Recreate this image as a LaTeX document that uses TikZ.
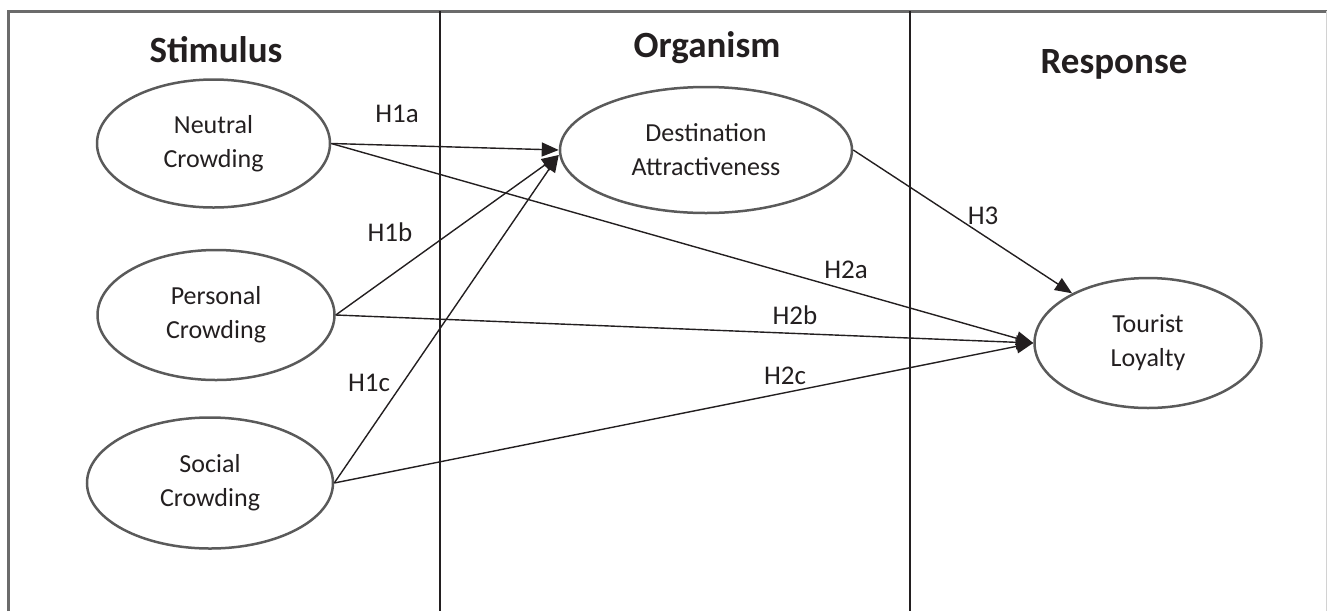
\documentclass[tikz,border=0pt]{standalone}
\usepackage{fontspec}
\setmainfont{Carlito}
\usetikzlibrary{shapes.geometric,arrows.meta}
\definecolor{ink}{HTML}{231F20}
\definecolor{rim}{HTML}{5A5A5A}
\definecolor{frame}{HTML}{6B6B6B}

\begin{document}
\begin{tikzpicture}[x=1pt,y=-1pt,
    construct/.style={draw=rim, line width=2.5pt, ellipse, inner sep=0pt, align=center,
      text=ink, font=\fontsize{26}{34}\selectfont},
    hyp/.style={text=ink, font=\fontsize{27}{32}\selectfont, inner sep=0pt, anchor=base},
    stage/.style={text=ink, font=\fontsize{37}{44}\selectfont\bfseries, inner sep=0pt, anchor=base},
    link/.style={draw=ink, line width=1.4pt, -{Triangle[length=17pt,width=14pt]}}]

    \useasboundingbox (0,0) rectangle (1327,611);

    %% Frame and columns
    % Outer frame
    \draw[frame, line width=3pt] (8,611) -- (8,11) -- (1327,11);
    \draw[gray!35, line width=1pt] (1326,11) -- (1326,611);

    % Column dividers
    \draw[ink, line width=2.5pt] (440,11) -- (440,611);
    \draw[ink, line width=2.5pt] (910,11) -- (910,611);

    % Column titles
    \node[stage] (stim) at (216,62) {Stimulus};
    \node[stage] (org) at (707,57) {Organism};
    \node[stage] (resp) at (1114,73) {Response};

    %% Constructs
    \node[construct, minimum width=233pt, minimum height=128pt] (nc) at (213.5,143.5) {Neutral\\Crowding};
    \node[construct, minimum width=237pt, minimum height=130pt] (pc) at (216,315) {Personal\\Crowding};
    \node[construct, minimum width=246pt, minimum height=131pt] (sc) at (210,483) {Social\\Crowding};
    \node[construct, minimum width=292pt, minimum height=126pt] (da) at (706,150) {Destination\\Attractiveness};
    \node[construct, minimum width=227pt, minimum height=130pt] (tl) at (1148,343) {Tourist\\Loyalty};

    %% Hypotheses
    % Stimulus to organism
    \draw[link] (nc.east) -- (da.west);
    \draw[link] (pc.east) -- ([yshift=-5pt]da.west);
    \draw[link] (sc.east) -- ([yshift=-5pt]da.west);

    % Stimulus to response
    \draw[link] (nc.east) -- (tl.west);
    \draw[link] (pc.east) -- (tl.west);
    \draw[link] (sc.east) -- (tl.west);

    % Organism to response
    \draw[link] (da.east) -- (tl);

    % Labels
    \node[hyp] (h1a) at (397,122) {H1a};
    \node[hyp] (h1b) at (390,241) {H1b};
    \node[hyp] (h1c) at (369,391) {H1c};
    \node[hyp] (h2a) at (846,278) {H2a};
    \node[hyp] (h2b) at (795,324) {H2b};
    \node[hyp] (h2c) at (785,384) {H2c};
    \node[hyp] (h3) at (983,224) {H3};

\end{tikzpicture}
\end{document}
